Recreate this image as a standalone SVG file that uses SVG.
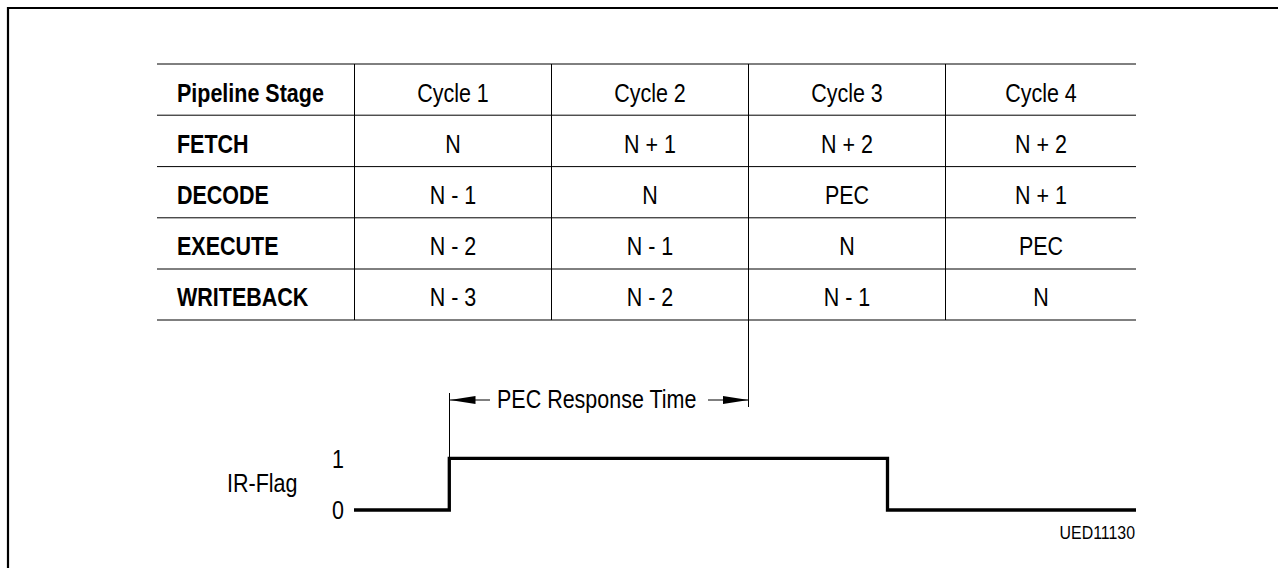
<svg xmlns="http://www.w3.org/2000/svg" width="1278" height="568" viewBox="0 0 1278 568">
<style>
.t{font-family:"Liberation Sans",Arial,sans-serif;font-size:25px;fill:#000}
.b{font-weight:bold}
.c{text-anchor:middle}
.r{text-anchor:end}
.hl{stroke:#000;stroke-width:1;fill:none}
.vl{stroke:#000;stroke-width:1;fill:none}
.wave{stroke:#000;stroke-width:3.3;fill:none;stroke-linejoin:miter}
</style>
<defs>
<marker id="ah" viewBox="0 0 26 8" refX="26" refY="4" markerWidth="26" markerHeight="8" markerUnits="userSpaceOnUse" orient="auto">
<path d="M0,0 L26,4 L0,8 Z" fill="#000"/>
</marker>
</defs>
<rect width="1278" height="568" fill="#fff"/>
<path d="M8,568 V8 H1278" stroke="#000" stroke-width="2.2" fill="none"/>

<g id="table">
<g id="grid">
<line class="hl" x1="157" y1="64" x2="1136" y2="64"/>
<line class="hl" x1="157" y1="115.2" x2="1136" y2="115.2"/>
<line class="hl" x1="157" y1="166.6" x2="1136" y2="166.6"/>
<line class="hl" x1="157" y1="217.8" x2="1136" y2="217.8"/>
<line class="hl" x1="157" y1="269" x2="1136" y2="269"/>
<line class="hl" x1="157" y1="320" x2="1136" y2="320"/>
<line class="vl" x1="354.5" y1="64" x2="354.5" y2="320"/>
<line class="vl" x1="551.5" y1="64" x2="551.5" y2="320"/>
<line class="vl" x1="748.5" y1="64" x2="748.5" y2="320"/>
<line class="vl" x1="945.5" y1="64" x2="945.5" y2="320"/>
</g>
<g id="header">
<text class="t b" transform="translate(177,102) scale(0.86,1)">Pipeline Stage</text>
<text class="t c" transform="translate(453,102) scale(0.86,1)">Cycle 1</text>
<text class="t c" transform="translate(650,102) scale(0.86,1)">Cycle 2</text>
<text class="t c" transform="translate(847,102) scale(0.86,1)">Cycle 3</text>
<text class="t c" transform="translate(1041,102) scale(0.86,1)">Cycle 4</text>
</g>
<g id="row-fetch">
<text class="t b" transform="translate(177,152.5) scale(0.86,1)">FETCH</text>
<text class="t c" transform="translate(453,152.5) scale(0.86,1)">N</text>
<text class="t c" transform="translate(650,152.5) scale(0.86,1)">N + 1</text>
<text class="t c" transform="translate(847,152.5) scale(0.86,1)">N + 2</text>
<text class="t c" transform="translate(1041,152.5) scale(0.86,1)">N + 2</text>
</g>
<g id="row-decode">
<text class="t b" transform="translate(177,204) scale(0.86,1)">DECODE</text>
<text class="t c" transform="translate(453,204) scale(0.86,1)">N - 1</text>
<text class="t c" transform="translate(650,204) scale(0.86,1)">N</text>
<text class="t c" transform="translate(847,204) scale(0.86,1)">PEC</text>
<text class="t c" transform="translate(1041,204) scale(0.86,1)">N + 1</text>
</g>
<g id="row-execute">
<text class="t b" transform="translate(177,255) scale(0.86,1)">EXECUTE</text>
<text class="t c" transform="translate(453,255) scale(0.86,1)">N - 2</text>
<text class="t c" transform="translate(650,255) scale(0.86,1)">N - 1</text>
<text class="t c" transform="translate(847,255) scale(0.86,1)">N</text>
<text class="t c" transform="translate(1041,255) scale(0.86,1)">PEC</text>
</g>
<g id="row-writeback">
<text class="t b" transform="translate(177,306) scale(0.86,1)">WRITEBACK</text>
<text class="t c" transform="translate(453,306) scale(0.86,1)">N - 3</text>
<text class="t c" transform="translate(650,306) scale(0.86,1)">N - 2</text>
<text class="t c" transform="translate(847,306) scale(0.86,1)">N - 1</text>
<text class="t c" transform="translate(1041,306) scale(0.86,1)">N</text>
</g>
</g>

<g id="connectors">
<line class="vl" x1="748.5" y1="320" x2="748.5" y2="407"/>
<line class="vl" x1="449.5" y1="393" x2="449.5" y2="458"/>
<line class="vl" x1="490" y1="400" x2="449.5" y2="400" marker-end="url(#ah)"/>
<line class="vl" x1="708" y1="400" x2="748.5" y2="400" marker-end="url(#ah)"/>
</g>

<g id="response-label">
<text class="t" transform="translate(497,408) scale(0.86,1)">PEC Response Time</text>
</g>

<g id="ir-flag">
<text class="t" transform="translate(227,492) scale(0.86,1)">IR-Flag</text>
<text class="t c" transform="translate(338,467.5) scale(0.86,1)">1</text>
<text class="t c" transform="translate(338,519) scale(0.86,1)">0</text>
<path class="wave" d="M354,510 H449.3 V458.3 H887.5 V510 H1136"/>
</g>

<g id="figure-id">
<text class="t r" style="font-size:18.5px" transform="translate(1135,538.5) scale(0.86,1)">UED11130</text>
</g>
</svg>
